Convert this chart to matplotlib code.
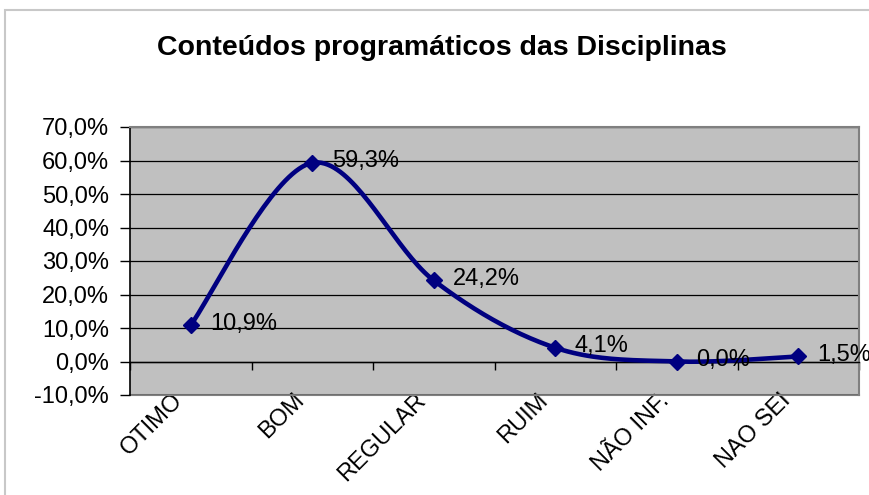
import matplotlib.pyplot as plt
import numpy as np
from matplotlib.patches import Rectangle
from matplotlib.transforms import ScaledTranslation

# dados
categorias = ['OTIMO', 'BOM', 'REGULAR', 'RUIM', 'NÃO INF.', 'NAO SEI']
valores = [10.9, 59.3, 24.2, 4.1, 0.0, 1.5]
y_ticks = [-10, 0, 10, 20, 30, 40, 50, 60, 70]
titulo = 'Conteúdos programáticos das Disciplinas'

plt.rcParams['font.family'] = ['Liberation Sans', 'DejaVu Sans']

def pct(v):
    return '{:.1f}%'.format(v).replace('.', ',')

fig = plt.figure(figsize=(8.69, 4.95), dpi=100)

# borda da area do grafico (estilo excel)
fig.patches.append(Rectangle((5/869, -0.05), 1.0, 1 - 10/495 + 0.05, transform=fig.transFigure,
                             fill=False, edgecolor='#c8c8c8', lw=1.5))

ax = fig.add_axes([130/869, 1 - 395/495, (859 - 130)/869, (395 - 127)/495])
ax.set_facecolor('#c0c0c0')
ax.set_xlim(-0.5, len(categorias) - 0.5)
ax.set_ylim(-10, 70)

ax.set_yticks(y_ticks, [pct(v) for v in y_ticks])
ax.tick_params(axis='y', direction='out', length=7, width=1, pad=8, labelsize=17)
ax.yaxis.grid(True, color='black', lw=0.9)
ax.set_axisbelow(True)

# eixo x passa pelo zero, com marcas entre as categorias
ax.spines['bottom'].set_position(('data', 0))
ax.spines['bottom'].set_linewidth(1)
ax.set_xticks(np.arange(-0.5, len(categorias), 1))
ax.set_xticklabels([])
ax.tick_params(axis='x', direction='out', length=6, width=1)
ax.spines['left'].set_linewidth(1.2)
for s in ['top', 'right']:
    ax.spines[s].set_color('#808080')
    ax.spines[s].set_linewidth(1.5)

# rotulos das categorias embaixo da area de plotagem
sec = ax.secondary_xaxis('bottom')
sec.set_xticks(range(len(categorias)), categorias, rotation=45, ha='right',
               rotation_mode='anchor', fontsize=17)
sec.tick_params(length=0, pad=-4)
sec.spines['bottom'].set_color('#808080')
sec.spines['bottom'].set_linewidth(1.5)
for lab in sec.get_xticklabels():
    lab.set_transform(lab.get_transform() + ScaledTranslation(-13.5/72, 0, fig.dpi_scale_trans))

# linha suavizada (bezier como no excel)
def suavizar(xs, ys, n=40):
    pts = ax.transData.transform(np.column_stack([xs, ys]))
    p = np.vstack([pts[0], pts, pts[-1]])
    t = np.linspace(0, 1, n)[:, None]
    partes = []
    for i in range(1, len(p) - 2):
        p0, p1, p2, p3 = p[i-1], p[i], p[i+1], p[i+2]
        c1 = p1 + (p2 - p0) / 6
        c2 = p2 - (p3 - p1) / 6
        partes.append((1-t)**3*p1 + 3*(1-t)**2*t*c1 + 3*(1-t)*t**2*c2 + t**3*p2)
    return ax.transData.inverted().transform(np.vstack(partes))

x = np.arange(len(categorias))
curva = suavizar(x, valores)
ax.plot(curva[:, 0], curva[:, 1], color='#000080', lw=3.3, solid_capstyle='round', zorder=3)
ax.plot(x, valores, linestyle='none', marker='D', ms=8, color='#000080', zorder=4)

for xi, v in zip(x, valores):
    ax.annotate(pct(v), (xi, v), xytext=(14, 1), textcoords='offset points',
                ha='left', va='center', fontsize=17, zorder=5)

fig.text(442/869, 1 - 48/495, titulo, ha='center', va='center', fontsize=20.5, fontweight='bold')

plt.savefig('out.png', dpi=100)
